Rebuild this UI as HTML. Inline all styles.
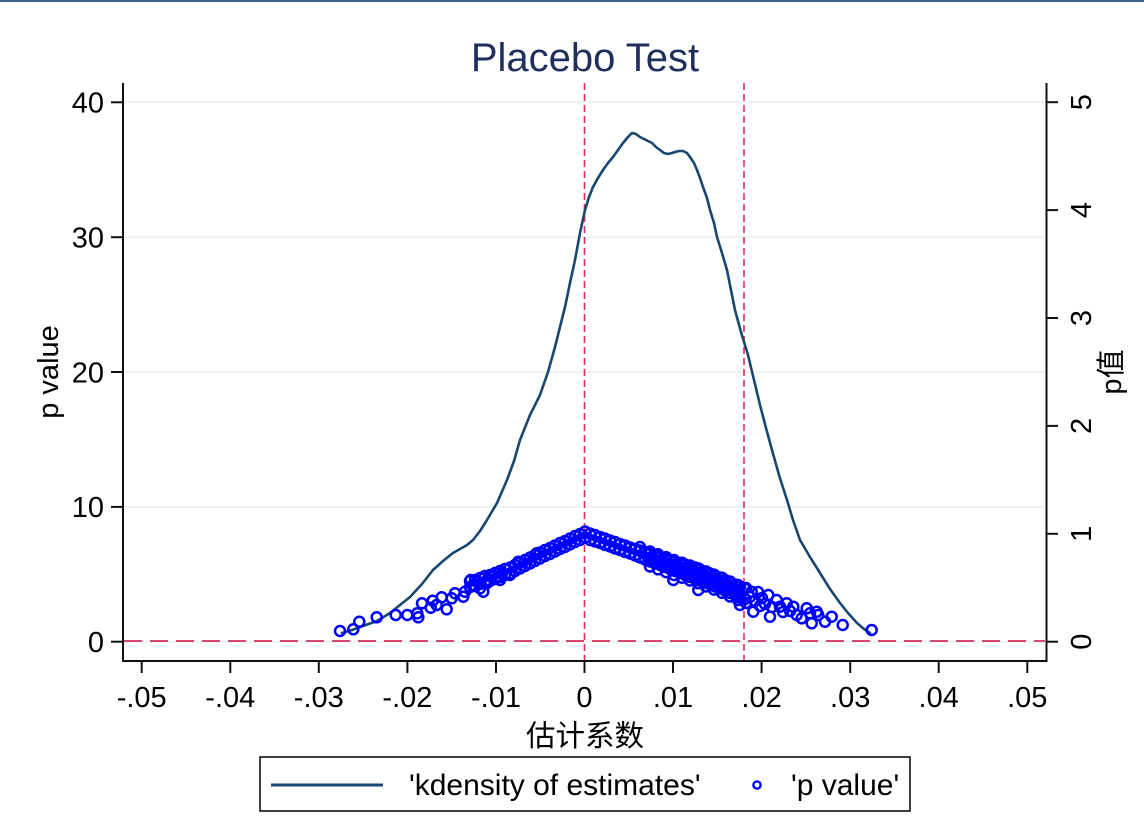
<!DOCTYPE html>
<html>
<head>
<meta charset="utf-8">
<style>
html,body{margin:0;padding:0;background:#fff;}
svg{display:block;}
text{font-family:"Liberation Sans","Noto Sans CJK SC",sans-serif;}
</style>
</head>
<body>
<svg xmlns="http://www.w3.org/2000/svg" width="1144" height="840" viewBox="0 0 1144 840">
<rect width="1144" height="840" fill="#ffffff"/>
<rect x="0" y="0" width="1144" height="2" fill="#3b6690"/>

<!-- title -->
<text x="585" y="71" font-size="40" fill="#1e2f5c" text-anchor="middle">Placebo Test</text>

<!-- gridlines -->
<g stroke="#eaf2f3" stroke-width="2">
<line x1="124" y1="102.3" x2="1045" y2="102.3"/>
<line x1="124" y1="237.2" x2="1045" y2="237.2"/>
<line x1="124" y1="372" x2="1045" y2="372"/>
<line x1="124" y1="506.9" x2="1045" y2="506.9"/>
<line x1="124" y1="641.7" x2="1045" y2="641.7"/>
</g>

<!-- reference lines -->
<g stroke="#de2a5c" stroke-width="1.6" stroke-dasharray="7 4" fill="none">
<line x1="584.5" y1="83" x2="584.5" y2="660"/>
<line x1="744" y1="83" x2="744" y2="660"/>
</g>
<line x1="124" y1="641" x2="1045" y2="641" stroke="#d6486c" stroke-width="2" stroke-dasharray="18 8"/>

<!-- axes -->
<path d="M123,83 V661 H1046.5 V83" stroke="#111" stroke-width="2" fill="none"/>
<g stroke="#111" stroke-width="2">
<line x1="111" y1="102.3" x2="123" y2="102.3"/>
<line x1="111" y1="237.2" x2="123" y2="237.2"/>
<line x1="111" y1="372" x2="123" y2="372"/>
<line x1="111" y1="506.9" x2="123" y2="506.9"/>
<line x1="111" y1="641.7" x2="123" y2="641.7"/>
<line x1="141.7" y1="661" x2="141.7" y2="673"/>
<line x1="230.3" y1="661" x2="230.3" y2="673"/>
<line x1="318.8" y1="661" x2="318.8" y2="673"/>
<line x1="407.4" y1="661" x2="407.4" y2="673"/>
<line x1="496" y1="661" x2="496" y2="673"/>
<line x1="584.5" y1="661" x2="584.5" y2="673"/>
<line x1="673" y1="661" x2="673" y2="673"/>
<line x1="761.6" y1="661" x2="761.6" y2="673"/>
<line x1="850.2" y1="661" x2="850.2" y2="673"/>
<line x1="938.7" y1="661" x2="938.7" y2="673"/>
<line x1="1027.3" y1="661" x2="1027.3" y2="673"/>
<line x1="1046.5" y1="641.7" x2="1058" y2="641.7"/>
<line x1="1046.5" y1="533.8" x2="1058" y2="533.8"/>
<line x1="1046.5" y1="425.9" x2="1058" y2="425.9"/>
<line x1="1046.5" y1="318" x2="1058" y2="318"/>
<line x1="1046.5" y1="210.1" x2="1058" y2="210.1"/>
<line x1="1046.5" y1="102.2" x2="1058" y2="102.2"/>
</g>

<!-- left tick labels -->
<g font-size="29" fill="#000" text-anchor="end">
<text x="104" y="112.6">40</text>
<text x="104" y="247.5">30</text>
<text x="104" y="382.3">20</text>
<text x="104" y="517.2">10</text>
<text x="104" y="652">0</text>
</g>
<!-- x tick labels -->
<g font-size="29" fill="#000" text-anchor="middle">
<text x="141.7" y="707">-.05</text>
<text x="230.3" y="707">-.04</text>
<text x="318.8" y="707">-.03</text>
<text x="407.4" y="707">-.02</text>
<text x="496" y="707">-.01</text>
<text x="584.5" y="707">0</text>
<text x="673" y="707">.01</text>
<text x="761.6" y="707">.02</text>
<text x="850.2" y="707">.03</text>
<text x="938.7" y="707">.04</text>
<text x="1027.3" y="707">.05</text>
</g>
<!-- right tick labels -->
<g font-size="29" fill="#000" text-anchor="middle">
<text transform="translate(1091,641.7) rotate(-90)">0</text>
<text transform="translate(1091,533.8) rotate(-90)">1</text>
<text transform="translate(1091,425.9) rotate(-90)">2</text>
<text transform="translate(1091,318) rotate(-90)">3</text>
<text transform="translate(1091,210.1) rotate(-90)">4</text>
<text transform="translate(1091,102.2) rotate(-90)">5</text>
</g>

<!-- axis titles -->
<text transform="translate(58,372) rotate(-90)" font-size="29" text-anchor="middle" fill="#000">p value</text>
<text transform="translate(1121,372) rotate(-90)" font-size="29" text-anchor="middle" fill="#000">p值</text>
<text x="585" y="746" font-size="29.5" text-anchor="middle" fill="#000">估计系数</text>

<!-- kdensity curve -->
<polyline fill="none" stroke="#1a476f" stroke-width="2.6" stroke-linejoin="round" stroke-linecap="round"
points="342,633 352,630 363,626 377,621 390,613 400,605 410,597 422,584 433,570 443,561 453,553 460,549 467,545 473,540 480,531 487,520 497,503 507,480 514,461 520,440 530,415 540,395 548,372 555,347 560,327 565,307 570,283 575,260 580,233 585,210 589,197 593,187 598,178 603,170 608,163 613,157 618,150 623,143 628,137 632,133 636,134 640,137 646,140 652,143 656,147 660,150 664,153 668,154 672,153 675,152 679,151 683,151 687,153 690,157 694,163 697,170 700,178 703,187 707,198 710,210 714,223 717,237 722,253 727,270 731,290 735,310 741,332 748,355 754,380 760,405 766,428 772,450 779,475 787,500 793,520 800,540 810,557 820,573 830,589 840,603 848,613 857,623 864,629 870,633"/>

<!-- dense band fill -->
<polygon fill="#0000ff" points="470,581 480,578 490,575 500,571 510,567.5 520,562.5 530,557.5 540,552.5 550,548 560,543 570,538.5 580,534 585,531.5 590,533.5 600,537 610,540.5 620,544 630,547.5 640,550.5 650,552 660,555 670,558 680,561 690,564 700,567.5 710,571.5 720,575.5 730,580 740,584.5 745,587 746,603 740,600 730,596.5 720,592.8 710,587 700,583 690,580.5 680,577 670,573 660,569 650,566 640,557.5 630,553.5 620,550 610,546.5 600,543 590,540 585,537.5 580,540 570,544.5 560,549 550,554 540,558.5 530,563.5 520,568.5 510,573.5 500,577 490,581 480,584 470,587"/>

<!-- scatter points -->
<g fill="none" stroke="#0000ff" stroke-width="2.5">
<!-- left sparse -->
<circle cx="340" cy="631" r="5"/><circle cx="353.3" cy="629.3" r="5"/><circle cx="359.3" cy="621.7" r="5"/>
<circle cx="376.7" cy="617.3" r="5"/><circle cx="395.7" cy="615" r="5"/><circle cx="407.3" cy="615" r="5"/>
<circle cx="417.3" cy="613.3" r="5"/><circle cx="418.3" cy="617.3" r="5"/><circle cx="422" cy="603.3" r="5"/>
<circle cx="430.7" cy="607.7" r="5"/><circle cx="432.7" cy="600.7" r="5"/><circle cx="436.7" cy="605" r="5"/>
<circle cx="441.7" cy="597.3" r="5"/><circle cx="446.7" cy="609.3" r="5"/><circle cx="451.7" cy="598.3" r="5"/>
<circle cx="455" cy="593.3" r="5"/><circle cx="463.3" cy="596.7" r="5"/><circle cx="465" cy="591.7" r="5"/>
<circle cx="470.7" cy="580" r="5"/><circle cx="473.3" cy="586" r="5"/><circle cx="477.3" cy="581.7" r="5"/>
<circle cx="480" cy="588.3" r="5"/><circle cx="483.3" cy="591.7" r="5"/><circle cx="486.7" cy="583.3" r="5"/>
<circle cx="491.7" cy="576.7" r="5"/><circle cx="500" cy="580" r="5"/><circle cx="501.7" cy="574" r="5"/>
<circle cx="510" cy="575" r="5"/><circle cx="518.3" cy="561.7" r="5"/><circle cx="520" cy="568.3" r="5"/>
<circle cx="530" cy="563.3" r="5"/><circle cx="536.7" cy="553.3" r="5"/>
<!-- left band -->
<circle cx="470" cy="581" r="5"/><circle cx="470" cy="587" r="5"/>
<circle cx="475" cy="580" r="5"/><circle cx="475" cy="586" r="5"/>
<circle cx="480" cy="578" r="5"/><circle cx="480" cy="584" r="5"/>
<circle cx="485" cy="576" r="5"/><circle cx="485" cy="582" r="5"/>
<circle cx="490" cy="575" r="5"/><circle cx="490" cy="581" r="5"/>
<circle cx="495" cy="573" r="5"/><circle cx="495" cy="579" r="5"/>
<circle cx="500" cy="571" r="5"/><circle cx="500" cy="577" r="5"/>
<circle cx="505" cy="569" r="5"/><circle cx="505" cy="575" r="5"/>
<circle cx="510" cy="567.5" r="5"/><circle cx="510" cy="573.5" r="5"/>
<circle cx="515" cy="565" r="5"/><circle cx="515" cy="571" r="5"/>
<circle cx="520" cy="562.5" r="5"/><circle cx="520" cy="568.5" r="5"/>
<circle cx="525" cy="560" r="5"/><circle cx="525" cy="566" r="5"/>
<circle cx="530" cy="557.5" r="5"/><circle cx="530" cy="563.5" r="5"/>
<circle cx="535" cy="555" r="5"/><circle cx="535" cy="561" r="5"/>
<circle cx="540" cy="552.5" r="5"/><circle cx="540" cy="558.5" r="5"/>
<circle cx="545" cy="550" r="5"/><circle cx="545" cy="556" r="5"/>
<circle cx="550" cy="548" r="5"/><circle cx="550" cy="554" r="5"/>
<circle cx="555" cy="545.5" r="5"/><circle cx="555" cy="551.5" r="5"/>
<circle cx="560" cy="543" r="5"/><circle cx="560" cy="549" r="5"/>
<circle cx="565" cy="541" r="5"/><circle cx="565" cy="547" r="5"/>
<circle cx="570" cy="538.5" r="5"/><circle cx="570" cy="544.5" r="5"/>
<circle cx="575" cy="536" r="5"/><circle cx="575" cy="542" r="5"/>
<circle cx="580" cy="534" r="5"/><circle cx="580" cy="540" r="5"/>
<circle cx="585" cy="531.5" r="5"/><circle cx="585" cy="537.5" r="5"/>
<!-- right band -->
<circle cx="590" cy="533.5" r="5"/><circle cx="590" cy="540" r="5"/>
<circle cx="595" cy="535" r="5"/><circle cx="595" cy="541.5" r="5"/>
<circle cx="600" cy="537" r="5"/><circle cx="600" cy="543" r="5"/>
<circle cx="605" cy="538.5" r="5"/><circle cx="605" cy="545" r="5"/>
<circle cx="610" cy="540.5" r="5"/><circle cx="610" cy="546.5" r="5"/>
<circle cx="615" cy="542" r="5"/><circle cx="615" cy="548.5" r="5"/>
<circle cx="620" cy="544" r="5"/><circle cx="620" cy="550" r="5"/>
<circle cx="625" cy="545.5" r="5"/><circle cx="625" cy="552" r="5"/>
<circle cx="630" cy="547.5" r="5"/><circle cx="630" cy="553.5" r="5"/>
<circle cx="635" cy="549" r="5"/><circle cx="635" cy="555.5" r="5"/>
<circle cx="640" cy="550.5" r="5"/><circle cx="640" cy="557.5" r="5"/>
<circle cx="645" cy="552" r="5"/><circle cx="645" cy="559.5" r="5"/>
<circle cx="650" cy="553.5" r="5"/><circle cx="650" cy="561.5" r="5"/>
<circle cx="655" cy="555" r="5"/><circle cx="655" cy="563.5" r="5"/>
<circle cx="660" cy="557" r="5"/><circle cx="660" cy="565" r="5"/>
<circle cx="665" cy="558.5" r="5"/><circle cx="665" cy="567" r="5"/>
<circle cx="670" cy="560" r="5"/><circle cx="670" cy="569" r="5"/>
<circle cx="675" cy="561.5" r="5"/><circle cx="675" cy="571" r="5"/>
<circle cx="680" cy="563" r="5"/><circle cx="680" cy="573" r="5"/>
<circle cx="685" cy="564.5" r="5"/><circle cx="685" cy="575" r="5"/>
<circle cx="690" cy="566" r="5"/><circle cx="690" cy="577" r="5"/>
<circle cx="695" cy="567.5" r="5"/><circle cx="695" cy="579" r="5"/>
<circle cx="700" cy="569.5" r="5"/><circle cx="700" cy="580.5" r="5"/>
<circle cx="705" cy="571.5" r="5"/><circle cx="705" cy="582.5" r="5"/>
<circle cx="710" cy="573.5" r="5"/><circle cx="710" cy="584.5" r="5"/>
<circle cx="715" cy="575.5" r="5"/><circle cx="715" cy="586.5" r="5"/>
<circle cx="720" cy="577.5" r="5"/><circle cx="720" cy="588.5" r="5"/>
<circle cx="725" cy="580" r="5"/><circle cx="725" cy="590.5" r="5"/>
<circle cx="730" cy="582" r="5"/><circle cx="730" cy="593" r="5"/>
<circle cx="735" cy="584.5" r="5"/><circle cx="735" cy="595" r="5"/>
<circle cx="740" cy="586.5" r="5"/><circle cx="740" cy="597.5" r="5"/>
<circle cx="745" cy="588.5" r="5"/><circle cx="745" cy="599" r="5"/>
<!-- right band outer spread -->
<circle cx="650" cy="551.5" r="5"/><circle cx="650" cy="566.5" r="5"/>
<circle cx="658" cy="554.3" r="5"/><circle cx="658" cy="569.3" r="5"/>
<circle cx="666" cy="557.1" r="5"/><circle cx="666" cy="572.1" r="5"/>
<circle cx="674" cy="560" r="5"/><circle cx="674" cy="575" r="5"/>
<circle cx="682" cy="562.7" r="5"/><circle cx="682" cy="577.7" r="5"/>
<circle cx="690" cy="565.5" r="5"/><circle cx="690" cy="580.5" r="5"/>
<circle cx="698" cy="568.3" r="5"/><circle cx="698" cy="583.3" r="5"/>
<circle cx="706" cy="571.4" r="5"/><circle cx="706" cy="586.4" r="5"/>
<circle cx="714" cy="574.6" r="5"/><circle cx="714" cy="589.6" r="5"/>
<circle cx="722" cy="577.8" r="5"/><circle cx="722" cy="592.8" r="5"/>
<circle cx="730" cy="581.5" r="5"/><circle cx="730" cy="596.5" r="5"/>
<circle cx="738" cy="585" r="5"/><circle cx="738" cy="600" r="5"/>
<circle cx="746" cy="588" r="5"/><circle cx="746" cy="603" r="5"/>
<!-- right sparse -->
<circle cx="673.3" cy="580" r="5"/><circle cx="698.3" cy="590" r="5"/><circle cx="640" cy="547" r="5"/>
<circle cx="740" cy="605" r="5"/><circle cx="753.3" cy="611.7" r="5"/><circle cx="751.7" cy="591.7" r="5"/>
<circle cx="750" cy="597" r="5"/><circle cx="755" cy="601" r="5"/><circle cx="758" cy="592" r="5"/>
<circle cx="762" cy="598" r="5"/><circle cx="765" cy="604" r="5"/><circle cx="760" cy="606" r="5"/>
<circle cx="768.3" cy="595" r="5"/><circle cx="776.7" cy="600" r="5"/><circle cx="770" cy="616.7" r="5"/>
<circle cx="772" cy="607" r="5"/><circle cx="780" cy="606.7" r="5"/><circle cx="786.7" cy="603.3" r="5"/>
<circle cx="793.3" cy="606.7" r="5"/><circle cx="796.7" cy="615" r="5"/><circle cx="801.7" cy="618.3" r="5"/>
<circle cx="806.7" cy="608.3" r="5"/><circle cx="810" cy="613.3" r="5"/><circle cx="811.7" cy="623.3" r="5"/>
<circle cx="816.7" cy="611.7" r="5"/><circle cx="818.3" cy="615" r="5"/><circle cx="825" cy="621.7" r="5"/>
<circle cx="831.7" cy="616.7" r="5"/><circle cx="842.7" cy="625" r="5"/><circle cx="871.7" cy="630" r="5"/>
<circle cx="783" cy="612" r="5"/><circle cx="790" cy="611" r="5"/>
</g>

<!-- legend -->
<rect x="260" y="757" width="650" height="54" fill="#fff" stroke="#000" stroke-width="1.5"/>
<line x1="271" y1="785" x2="383" y2="785" stroke="#1a476f" stroke-width="3"/>
<text x="409" y="795" font-size="30" fill="#000">'kdensity of estimates'</text>
<circle cx="757" cy="785" r="3.6" fill="none" stroke="#0000ff" stroke-width="2.4"/>
<text x="791" y="795" font-size="30" fill="#000">'p value'</text>
</svg>
</body>
</html>
